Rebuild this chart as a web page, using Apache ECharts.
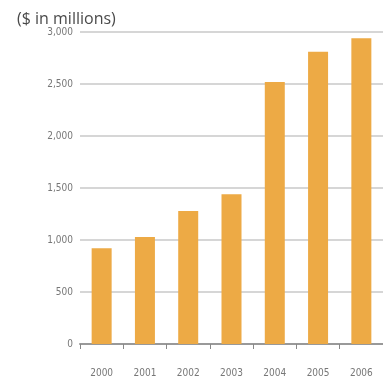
<!DOCTYPE html>
<html>
<head>
<meta charset="utf-8">
<script src="https://cdn.jsdelivr.net/npm/echarts@6/dist/echarts.min.js"></script>
<style>
  html, body { margin: 0; padding: 0; background: #fff; }
  #chart { width: 383px; height: 389px; }
</style>
</head>
<body>
<div id="chart"></div>
<script>
const years = ['2000', '2001', '2002', '2003', '2004', '2005', '2006']
const amounts = [920, 1030, 1280, 1440, 2520, 2810, 2940]

const myChart = echarts.init(document.getElementById('chart'))

const option = {
  animation: false,
  title: {
    text: '($ in millions)',
    left: 12,
    top: 6,
    textStyle: {
      fontFamily: 'Open Sans',
      fontSize: 16,
      fontWeight: 'normal',
      color: '#4a4a4a'
    }
  },
  grid: {
    left: 80,
    right: -8,
    top: 32,
    bottom: 45
  },
  xAxis: {
    type: 'category',
    data: years,
    axisLine: {
      show: true,
      lineStyle: { color: '#999', width: 2 }
    },
    axisTick: {
      show: true,
      length: 5,
      lineStyle: { color: '#888', width: 1 }
    },
    axisLabel: {
      margin: 24,
      fontFamily: 'DejaVu Sans Condensed',
      fontStretch: 'condensed',
      fontSize: 10,
      color: '#777'
    }
  },
  yAxis: {
    type: 'value',
    min: 0,
    max: 3000,
    interval: 500,
    axisLine: { show: false },
    axisTick: { show: false },
    axisLabel: {
      margin: 7,
      fontFamily: 'DejaVu Sans Condensed',
      fontSize: 10,
      color: '#777',
      formatter: (v) => v.toLocaleString('en-US')
    },
    splitLine: {
      show: true,
      lineStyle: { color: '#d6d6d6', width: 2 }
    }
  },
  series: [
    {
      type: 'bar',
      data: amounts,
      barWidth: 20,
      itemStyle: { color: '#EDAA45' }
    }
  ]
}

myChart.setOption(option)
</script>
</body>
</html>
